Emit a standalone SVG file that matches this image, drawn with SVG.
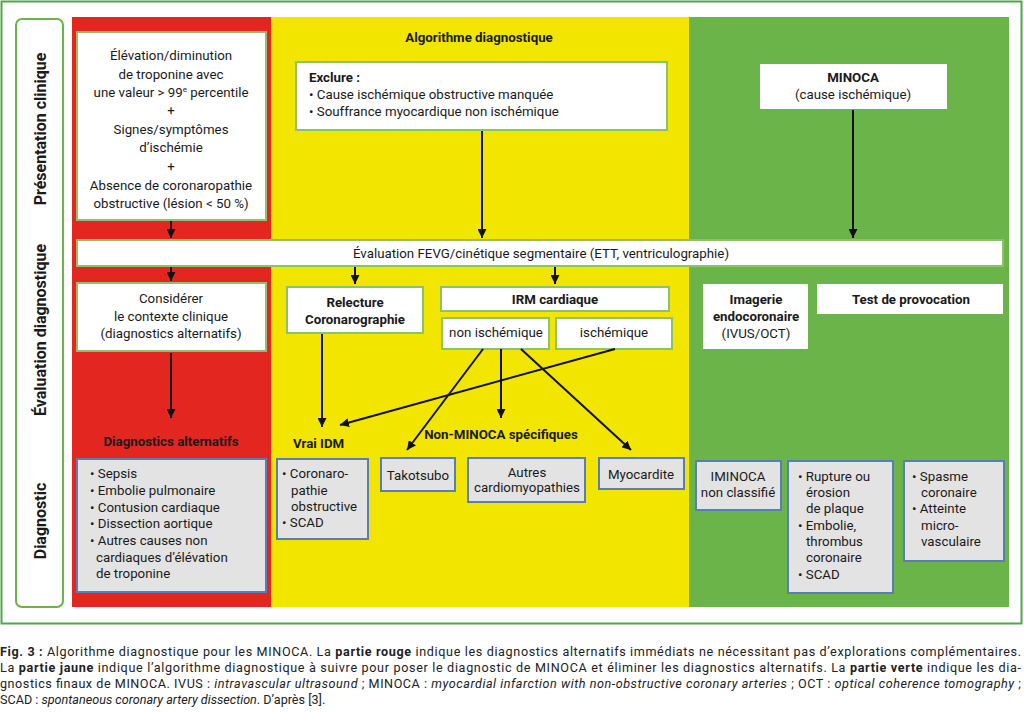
<svg xmlns="http://www.w3.org/2000/svg" width="1024" height="712" viewBox="0 0 1024 712">
<defs>
<marker id="ah" viewBox="0 0 10 10" refX="10" refY="5" markerWidth="9" markerHeight="9" markerUnits="userSpaceOnUse" orient="auto">
<path d="M0,0 L10,5 L0,10 z" fill="#111"/>
</marker>
<style>
text{font-family:Roboto,"Liberation Sans",sans-serif;font-size:13.3px;fill:#1a1a1a}
.b{font-weight:bold}
.c{text-anchor:middle}
.lab{font-size:16px;font-weight:bold;text-anchor:middle}
.wb{fill:#fff;stroke:#8cc26a;stroke-width:2}
.wn{fill:#fff}
.gb{fill:#e3e3e3;stroke:#5a7db3;stroke-width:2}
.ar{stroke:#111;stroke-width:2;fill:none;marker-end:url(#ah)}
.cap{font-size:12.6px;fill:#222}
</style>
</defs>
<rect width="1024" height="712" fill="#fff"/>
<rect x="1.5" y="1.5" width="1020" height="622" fill="none" stroke="#4ea54e" stroke-width="2"/>
<g id="labels">
<rect x="16" y="19" width="47" height="588" rx="6" fill="#fff" stroke="#6ab44a" stroke-width="2"/>
<text class="lab" transform="translate(45.5,129) rotate(-90)">Présentation clinique</text>
<text class="lab" transform="translate(45.5,330) rotate(-90)">Évaluation diagnostique</text>
<text class="lab" transform="translate(45.5,521) rotate(-90)">Diagnostic</text>
</g>
<g id="panels">
<rect x="72" y="17" width="199" height="590" fill="#e3261f"/>
<rect x="271" y="17" width="418" height="590" fill="#f2e500"/>
<rect x="689" y="17" width="320" height="590" fill="#6ab44a"/>
</g>
<g id="n-presentation">
<rect class="wb" x="77" y="32" width="189" height="188"/>
<text class="c" x="171" y="60">Élévation/diminution</text>
<text class="c" x="171" y="79">de troponine avec</text>
<text class="c" x="171" y="97">une valeur &gt; 99<tspan font-size="8" dy="-5">e</tspan><tspan dy="5"> percentile</tspan></text>
<text class="c" x="171" y="115">+</text>
<text class="c" x="171" y="134">Signes/symptômes</text>
<text class="c" x="171" y="152">d’ischémie</text>
<text class="c" x="171" y="171">+</text>
<text class="c" x="171" y="190">Absence de coronaropathie</text>
<text class="c" x="171" y="208">obstructive (lésion &lt; 50 %)</text>
</g>
<g id="n-algo-title">
<text class="c b" x="479" y="42">Algorithme diagnostique</text>
</g>
<g id="n-exclure">
<rect class="wb" x="296" y="62" width="371" height="68"/>
<text class="b" x="309" y="82">Exclure :</text>
<text x="309" y="99">• Cause ischémique obstructive manquée</text>
<text x="309" y="116">• Souffrance myocardique non ischémique</text>
</g>
<g id="n-minoca">
<rect class="wn" x="760" y="64" width="187" height="45"/>
<text class="c b" x="853" y="82">MINOCA</text>
<text class="c" x="853" y="99">(cause ischémique)</text>
</g>
<g id="n-fevg">
<rect class="wb" x="77" y="240" width="926" height="26"/>
<text class="c" x="541" y="258">Évaluation FEVG/cinétique segmentaire (ETT, ventriculographie)</text>
</g>
<g id="n-considerer">
<rect class="wb" x="77" y="283" width="189" height="68"/>
<text class="c" x="171" y="303">Considérer</text>
<text class="c" x="171" y="321">le contexte clinique</text>
<text class="c" x="171" y="338">(diagnostics alternatifs)</text>
</g>
<g id="n-relecture">
<rect class="wb" x="287" y="287" width="136" height="46"/>
<text class="c b" x="355" y="307">Relecture</text>
<text class="c b" x="355" y="324">Coronarographie</text>
</g>
<g id="n-irm">
<rect class="wb" x="441" y="287" width="228" height="24"/>
<text class="c b" x="555" y="304">IRM cardiaque</text>
</g>
<g id="n-nonisch">
<rect class="wb" x="442" y="318" width="107" height="31"/>
<text class="c" x="496" y="337">non ischémique</text>
</g>
<g id="n-isch">
<rect class="wb" x="556" y="318" width="116" height="31"/>
<text class="c" x="614" y="337">ischémique</text>
</g>
<g id="n-imagerie">
<rect class="wn" x="703" y="284" width="105" height="65"/>
<text class="c b" x="756" y="304">Imagerie</text>
<text class="c b" x="756" y="321">endocoronaire</text>
<text class="c" x="756" y="338">(IVUS/OCT)</text>
</g>
<g id="n-provocation">
<rect class="wn" x="817" y="284" width="186" height="30"/>
<text class="c b" x="911" y="304">Test de provocation</text>
</g>
<g id="n-diagalt">
<text class="c b" x="171" y="446">Diagnostics alternatifs</text>
<rect class="gb" x="77" y="459" width="189" height="133"/>
<text x="90" y="478">• Sepsis</text>
<text x="90" y="495">• Embolie pulmonaire</text>
<text x="90" y="512">• Contusion cardiaque</text>
<text x="90" y="528">• Dissection aortique</text>
<text x="90" y="545">• Autres causes non</text>
<text x="96" y="562">cardiaques d’élévation</text>
<text x="96" y="578">de troponine</text>
</g>
<g id="n-vraiidm">
<text class="b" x="293" y="448">Vrai IDM</text>
<rect class="gb" x="277" y="459" width="91" height="80"/>
<text x="282" y="478">• Coronaro-</text>
<text x="291" y="495">pathie</text>
<text x="291" y="511">obstructive</text>
<text x="282" y="527">• SCAD</text>
</g>
<g id="n-nonminoca">
<text class="c b" x="501" y="439">Non-MINOCA spécifiques</text>
</g>
<g id="n-takotsubo">
<rect class="gb" x="381" y="458" width="74" height="33"/>
<text class="c" x="418" y="480">Takotsubo</text>
</g>
<g id="n-autres">
<rect class="gb" x="468" y="458" width="117" height="44"/>
<text class="c" x="527" y="477">Autres</text>
<text class="c" x="527" y="492">cardiomyopathies</text>
</g>
<g id="n-myocardite">
<rect class="gb" x="599" y="458" width="85" height="31"/>
<text class="c" x="641" y="479">Myocardite</text>
</g>
<g id="n-iminoca">
<rect class="gb" x="696" y="461" width="85" height="49"/>
<text class="c" x="738" y="481">IMINOCA</text>
<text class="c" x="738" y="497">non classifié</text>
</g>
<g id="n-rupture">
<rect class="gb" x="788" y="461" width="105" height="132"/>
<text x="798" y="481">• Rupture ou</text>
<text x="806" y="497">érosion</text>
<text x="806" y="513">de plaque</text>
<text x="798" y="530">• Embolie,</text>
<text x="806" y="546">thrombus</text>
<text x="806" y="562">coronaire</text>
<text x="798" y="579">• SCAD</text>
</g>
<g id="n-spasme">
<rect class="gb" x="904" y="461" width="100" height="100"/>
<text x="912" y="481">• Spasme</text>
<text x="921" y="497">coronaire</text>
<text x="912" y="513">• Atteinte</text>
<text x="921" y="530">micro-</text>
<text x="921" y="546">vasculaire</text>
</g>
<g id="connectors">
<line class="ar" x1="171" y1="221" x2="171" y2="238"/>
<line class="ar" x1="482" y1="131" x2="482" y2="238"/>
<line class="ar" x1="853" y1="110" x2="853" y2="238"/>
<line class="ar" x1="171" y1="267" x2="171" y2="281"/>
<line class="ar" x1="355" y1="267" x2="355" y2="284"/>
<line class="ar" x1="555" y1="267" x2="555" y2="284"/>
<line class="ar" x1="171" y1="353" x2="171" y2="418"/>
<line class="ar" x1="322" y1="334" x2="322" y2="427"/>
<line class="ar" x1="615" y1="349" x2="340" y2="425"/>
<line class="ar" x1="483" y1="349" x2="407" y2="450"/>
<line class="ar" x1="501" y1="349" x2="501" y2="418"/>
<line class="ar" x1="521" y1="349" x2="631" y2="450"/>
</g>
<g id="caption">
<text class="cap" x="0" y="656" textLength="1021" lengthAdjust="spacing"><tspan font-weight="bold">Fig. 3 :</tspan> Algorithme diagnostique pour les MINOCA. La <tspan font-weight="bold">partie rouge</tspan> indique les diagnostics alternatifs immédiats ne nécessitant pas d’explorations complémentaires.</text>
<text class="cap" x="0" y="672" textLength="1021" lengthAdjust="spacing">La <tspan font-weight="bold">partie jaune</tspan> indique l’algorithme diagnostique à suivre pour poser le diagnostic de MINOCA et éliminer les diagnostics alternatifs. La <tspan font-weight="bold">partie verte</tspan> indique les dia-</text>
<text class="cap" x="0" y="688" textLength="1021" lengthAdjust="spacing">gnostics finaux de MINOCA. IVUS : <tspan font-style="italic">intravascular ultrasound</tspan> ; MINOCA : <tspan font-style="italic">myocardial infarction with non-obstructive coronary arteries</tspan> ; OCT : <tspan font-style="italic">optical coherence tomography</tspan> ;</text>
<text class="cap" x="0" y="704">SCAD : <tspan font-style="italic">spontaneous coronary artery dissection</tspan>. D’après [3].</text>
</g>
</svg>
